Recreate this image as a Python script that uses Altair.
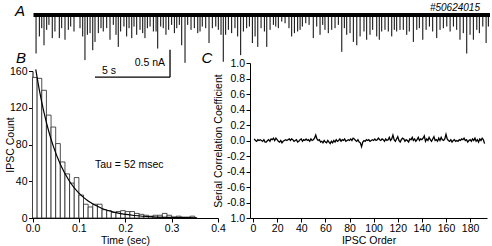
import altair as alt
import pandas as pd

FONT = "Liberation Sans"

# ---------------- Panel A: spontaneous IPSC trace ----------------
trace_duration = 30.43  # s
spike_time = [
    0.17, 0.39, 0.55, 0.70, 0.88, 1.03, 1.25, 1.43, 1.72, 1.88,
    2.10, 2.32, 2.48, 2.70, 3.10, 3.28, 3.43, 3.59, 3.77, 3.95,
    4.10, 4.32, 4.50, 4.65, 4.88, 5.10, 5.32, 5.50, 5.65, 5.81,
    6.03, 6.21, 6.37, 6.55, 6.70, 6.88, 7.10, 7.28, 7.43, 7.59,
    7.77, 7.99, 8.17, 8.28, 8.48, 8.65, 8.83, 9.01, 9.21, 9.39,
    9.55, 9.72, 9.88, 10.10,
    10.28, 10.50, 10.72, 10.95, 11.10, 11.25, 11.48, 11.70, 11.92, 12.15,
    12.32, 12.50, 12.65, 12.81, 12.99, 13.21, 13.43, 13.61, 13.81, 13.99,
    14.21, 14.39, 14.59, 14.77, 14.95, 15.17, 15.39, 15.55, 15.77, 15.99,
    16.15, 16.32, 16.55, 16.77, 17.03, 17.21, 17.39, 17.61, 17.77, 17.92,
    18.15, 18.37, 18.65, 18.88, 19.10, 19.28, 19.43, 19.65, 19.88, 20.10,
    20.32, 20.55, 20.72,
    20.88, 21.10, 21.32, 21.55, 21.77, 22.03, 22.21, 22.43, 22.61, 22.88,
    23.05, 23.21, 23.43, 23.65, 23.88, 24.05, 24.21, 24.43, 24.65, 24.88,
    25.05, 25.32, 25.55, 25.72, 25.95, 26.17, 26.39, 26.61, 26.88, 27.10,
    27.32, 27.55, 27.77, 27.99, 28.21, 28.43, 28.65, 28.88, 29.10, 29.32,
    29.55, 29.72, 29.95, 30.17, 30.32,
]
spike_amp = [  # nA (inward, drawn downward)
    0.70, 0.39, 0.24, 0.55, 0.27, 0.18, 0.42, 0.30, 0.42, 0.24,
    0.45, 0.27, 0.21, 0.30, 0.24, 0.39, 0.82, 0.36, 0.33, 0.64,
    0.49, 0.33, 0.24, 0.30, 0.24, 0.45, 0.18, 0.36, 0.58, 0.30,
    0.21, 0.39, 0.24, 0.42, 0.21, 0.36, 0.27, 0.33, 0.42, 0.24,
    0.21, 0.30, 0.30, 0.61, 0.21, 0.24, 0.36, 0.27, 0.18, 0.33,
    0.24, 0.18, 0.55, 0.87,
    0.18, 0.27, 0.24, 0.33, 0.30, 0.21, 0.24, 0.51, 0.24, 0.21,
    0.27, 0.36, 0.85, 0.36, 0.27, 0.33, 0.24, 0.39, 0.73, 0.30,
    0.24, 0.21, 0.51, 0.39, 0.58, 0.24, 0.30, 0.58, 0.27, 0.18,
    0.21, 0.24, 0.12, 0.15, 0.24, 0.39, 0.33, 0.30, 0.27, 0.21,
    0.15, 0.18, 0.42, 0.21, 0.36, 0.18, 0.27, 0.33, 0.27, 0.24,
    0.18, 0.67, 0.24,
    0.36, 0.33, 0.49, 0.55, 0.39, 0.30, 0.45, 0.36, 0.27, 0.39,
    0.45, 0.30, 0.27, 0.30, 0.39, 0.27, 0.30, 0.27, 0.27, 0.36,
    0.30, 0.49, 0.27, 0.24, 0.45, 0.27, 0.21, 0.30, 0.42, 0.27,
    0.24, 0.21, 0.30, 0.21, 0.27, 0.45, 0.33, 0.70, 0.36, 0.45,
    0.27, 0.33, 0.21, 0.51, 0.21,
]
# scale bar (5 s, 0.5 nA)
bar_t0, bar_t1 = 4.1, 9.1
bar_level = -1.13
bar_current = 0.5

# ---------------- Panel B: inter-event interval histogram ----------------
bin_width = 0.01
bin_count = [
    153, 152, 139, 112, 99, 81, 61, 48, 38, 44,
    25, 15, 12, 15, 15, 9, 8, 6, 7, 8,
    7, 7, 5, 4, 3, 2, 3, 3, 5, 3,
    1, 2, 1, 1, 2,
]
bin_start = [round(i * bin_width, 2) for i in range(len(bin_count))]
fit_time = [0.007, 0.015, 0.025, 0.035, 0.045, 0.06, 0.08, 0.10, 0.12, 0.15,
            0.18, 0.22, 0.26, 0.30, 0.355]
fit_count = [161.7, 138.6, 114.4, 94.4, 77.9, 58.4, 39.7, 27.0, 18.4, 10.3,
             5.8, 2.7, 1.2, 0.6, 0.2]

# ---------------- Panel C: serial correlation ----------------
ipsc_order = list(range(1, 193))
serial_corr = [
    0.02, 0.00, -0.01, 0.01, 0.00, 0.01, 0.00, -0.01, 0.01, -0.02,
    -0.02, 0.00, 0.01, -0.01, 0.02, 0.01, 0.03, 0.00, 0.03, 0.01,
    -0.01, -0.02, 0.00, -0.03, -0.01, 0.00, 0.01, 0.00, 0.01, 0.02,
    0.00, 0.02, 0.01, -0.01, 0.00, 0.01, -0.02, -0.01, 0.01, 0.02,
    -0.01, 0.01, 0.00, 0.02, 0.00, 0.01, -0.01, 0.02, 0.00, 0.01,
    0.03, 0.07, 0.02, 0.00, 0.01, -0.02, -0.01, -0.03, 0.00, -0.02,
    -0.03, 0.00, -0.02, -0.04, -0.01, -0.03, 0.00, -0.02, 0.01, -0.01,
    0.00, 0.02, -0.01, 0.01, 0.00, 0.02, -0.01, 0.00, 0.01, 0.00,
    0.02, 0.00, 0.03, 0.02, 0.00, -0.01, 0.01, -0.02, -0.03, -0.08,
    -0.02, 0.00, -0.01, 0.01, 0.00, 0.01, -0.01, 0.00, 0.01, 0.00,
    0.02, 0.00, 0.01, 0.03, 0.01, 0.00, 0.02, 0.01, -0.01, 0.02,
    0.00, 0.01, 0.04, 0.00, 0.02, 0.07, 0.01, -0.01, 0.02, 0.05,
    0.00, -0.02, 0.01, 0.03, 0.02, -0.01, 0.01, 0.00, -0.02, 0.02,
    0.01, 0.04, 0.00, 0.02, -0.01, 0.01, 0.04, 0.00, 0.02, 0.01,
    0.03, 0.06, -0.01, 0.02, 0.00, 0.04, 0.01, -0.01, 0.02, 0.05,
    0.00, 0.01, -0.01, 0.03, 0.00, 0.04, 0.01, 0.00, 0.02, 0.08,
    0.02, 0.00, -0.01, 0.01, -0.02, 0.00, 0.01, -0.01, 0.00, -0.01,
    0.01, 0.00, 0.02, 0.01, 0.03, 0.00, 0.01, -0.02, 0.00, 0.01,
    -0.01, 0.02, 0.00, 0.03, -0.01, 0.01, -0.02, 0.02, 0.00, 0.03,
    0.01, -0.04,
]

# ---------------- data frames ----------------
df_base = pd.DataFrame({"t": [0.0], "t2": [trace_duration], "y": [0.0]})
df_spk = pd.DataFrame({"t": spike_time, "zero": 0.0, "neg": [-a for a in spike_amp]})
df_barh = pd.DataFrame({"t": [bar_t0], "t2": [bar_t1], "y": [bar_level]})
df_barv = pd.DataFrame({"t": [bar_t1], "y": [bar_level], "y2": [bar_level + bar_current]})
df_hist = pd.DataFrame({"s": bin_start, "e": [s + bin_width for s in bin_start],
                        "c": bin_count, "zero": 0})
df_fit = pd.DataFrame({"t": fit_time, "c": fit_count})
df_sc = pd.DataFrame({"order": ipsc_order, "r": serial_corr})
df_one = pd.DataFrame({"k": [0]})

# ---------------- scales (pixel ranges place the panels) ----------------
ax_x = alt.Scale(domain=[0, trace_duration], range=[33.5, 490], nice=False, zero=False)
ax_y = alt.Scale(domain=[-1, 0], range=[70, 15], nice=False, zero=False)
bx = alt.Scale(domain=[0, 0.4], range=[32.5, 218], nice=False, zero=False)
by = alt.Scale(domain=[0, 160], range=[218, 71], nice=False, zero=False)
cx = alt.Scale(domain=[-2.5, 194], range=[250, 487], nice=False, zero=False)
cy = alt.Scale(domain=[-1, 1], range=[218, 63], nice=False, zero=False)

ax_common = dict(
    grid=False, domainColor="black", tickColor="black", labelColor="black",
    titleColor="black", labelFont=FONT, titleFont=FONT, labelFontSize=10.5,
    titleFontSize=10.5, titleFontWeight="normal", tickSize=4, labelPadding=1.5,
    domainWidth=1, tickWidth=1, labelOverlap=False, labelFlush=False,
    titleAlign="center", titleBaseline="middle",
)

# Panel A layers
baseline = alt.Chart(df_base).mark_rule(color="black", strokeWidth=4).encode(
    x=alt.X("t:Q", scale=ax_x, axis=None), x2="t2:Q",
    y=alt.Y("y:Q", scale=ax_y, axis=None))
spikes = alt.Chart(df_spk).mark_rule(color="black", strokeWidth=1).encode(
    x=alt.X("t:Q", scale=ax_x, axis=None),
    y=alt.Y("zero:Q", scale=ax_y, axis=None), y2="neg:Q")
barh = alt.Chart(df_barh).mark_rule(color="black", strokeWidth=1.3).encode(
    x=alt.X("t:Q", scale=ax_x, axis=None), x2="t2:Q",
    y=alt.Y("y:Q", scale=ax_y, axis=None))
barv = alt.Chart(df_barv).mark_rule(color="black", strokeWidth=1.3).encode(
    x=alt.X("t:Q", scale=ax_x, axis=None),
    y=alt.Y("y:Q", scale=ax_y, axis=None), y2="y2:Q")

# Panel B layers
hist = alt.Chart(df_hist).mark_rect(fill="white", stroke="#222222", strokeWidth=0.8).encode(
    x=alt.X("s:Q", scale=bx, axis=alt.Axis(
        orient="bottom", offset=-28, values=[0, 0.1, 0.2, 0.3, 0.4], format=".1f",
        title="Time (sec)", titleX=125, titleY=22.5, **ax_common)),
    x2="e:Q",
    y=alt.Y("c:Q", scale=by, axis=alt.Axis(
        orient="left", offset=-32.5, values=[0, 40, 80, 120, 160],
        title="IPSC Count", titleX=-22.5, titleY=144.5, **ax_common)),
    y2="zero:Q")
fit = alt.Chart(df_fit).mark_line(color="black", strokeWidth=1.2, interpolate="monotone").encode(
    x=alt.X("t:Q", scale=bx, axis=None),
    y=alt.Y("c:Q", scale=by, axis=None))

# Panel C layer
scline = alt.Chart(df_sc).mark_line(color="black", strokeWidth=1.3).encode(
    x=alt.X("order:Q", scale=cx, axis=alt.Axis(
        orient="bottom", offset=-28, values=list(range(0, 181, 20)),
        title="IPSC Order", titleX=368.5, titleY=22.5, **ax_common)),
    y=alt.Y("r:Q", scale=cy, axis=alt.Axis(
        orient="left", offset=-250, values=[-1, -0.8, -0.6, -0.4, -0.2, 0, 0.2, 0.4, 0.6, 0.8, 1],
        labelExpr="datum.value == -1 ? '1.0' : replace(format(datum.value, '.1f'), '\u2212', '-')",
        title="Serial Correlation Coefficient", titleX=-32, titleY=140.5, **ax_common)))


def label(text, x, y, size=10.5, align="center", italic=False):
    return alt.Chart(df_one).mark_text(
        text=text, font=FONT, fontSize=size, align=align, baseline="middle",
        fontStyle="italic" if italic else "normal", color="black",
    ).encode(x=alt.value(x), y=alt.value(y))


texts = [
    label("A", 20, 11, size=15, italic=True),
    label("B", 21, 58, size=15, italic=True),
    label("C", 207, 58, size=15, italic=True),
    label("#50624015", 480, 8, size=10, align="right", italic=True),
    label("5 s", 109, 71),
    label("0.5 nA", 165, 63, align="right"),
    label("Tau = 52 msec", 95, 165, align="left"),
]

chart = alt.layer(
    hist, fit, scline, baseline, spikes, barh, barv, *texts
).resolve_scale(x="independent", y="independent").properties(
    width=492, height=246, padding=0, autosize=alt.AutoSizeParams(type="none")
).configure_view(stroke=None)

chart.save("out.html", embed_options={"renderer": "svg", "actions": False})
